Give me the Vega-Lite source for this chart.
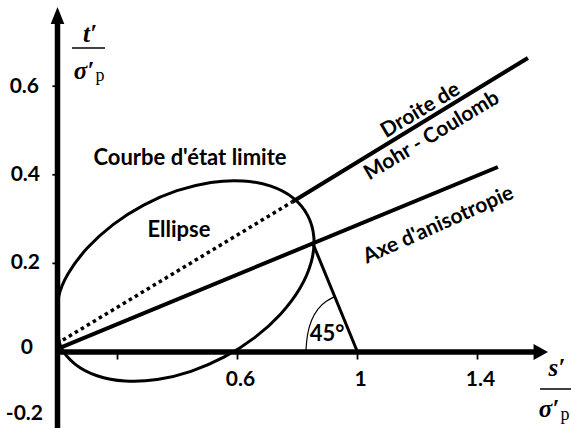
{
  "$schema": "https://vega.github.io/schema/vega-lite/v6.json",
  "width": 571,
  "height": 428,
  "autosize": {"type": "none"},
  "padding": 0,
  "background": "white",
  "config": {"view": {"stroke": null}, "font": "Lato"},
  "encoding": {
    "x": {"field": "s", "type": "quantitative", "scale": {"domain": [-0.19167, 1.71167], "nice": false, "zero": false}, "axis": null},
    "y": {"field": "t", "type": "quantitative", "scale": {"domain": [-0.1716, 0.7946], "nice": false, "zero": false}, "axis": null}
  },
  "layer": [
    {
      "description": "Ellipse (courbe d'état limite)",
      "data": {"values": [
        {"i": 0, "s": 0.8337, "t": 0.3085},
        {"i": 1, "s": 0.785, "t": 0.3479},
        {"i": 2, "s": 0.7113, "t": 0.3743},
        {"i": 3, "s": 0.618, "t": 0.3862},
        {"i": 4, "s": 0.5113, "t": 0.3828},
        {"i": 5, "s": 0.3983, "t": 0.3641},
        {"i": 6, "s": 0.2872, "t": 0.3317},
        {"i": 7, "s": 0.1852, "t": 0.2876},
        {"i": 8, "s": 0.0992, "t": 0.2345},
        {"i": 9, "s": 0.0352, "t": 0.1767},
        {"i": 10, "s": 0.004, "t": 0.125},
        {"i": 11, "s": 0.0, "t": 0.065},
        {"i": 12, "s": 0.011, "t": 0.012},
        {"i": 13, "s": 0.0584, "t": -0.0273},
        {"i": 14, "s": 0.132, "t": -0.0537},
        {"i": 15, "s": 0.2254, "t": -0.0657},
        {"i": 16, "s": 0.3321, "t": -0.0623},
        {"i": 17, "s": 0.4449, "t": -0.0436},
        {"i": 18, "s": 0.5561, "t": -0.0112},
        {"i": 19, "s": 0.6582, "t": 0.033},
        {"i": 20, "s": 0.7441, "t": 0.086},
        {"i": 21, "s": 0.8081, "t": 0.1438},
        {"i": 22, "s": 0.8458, "t": 0.2029},
        {"i": 23, "s": 0.8545, "t": 0.2591}
      ]},
      "mark": {"type": "line", "interpolate": "cardinal-closed", "stroke": "black", "strokeWidth": 3},
      "encoding": {"order": {"field": "i", "type": "quantitative"}}
    },
    {
      "description": "Mohr-Coulomb, partie intérieure (pointillés)",
      "data": {"values": [{"s": 0.018, "t": 0.027, "s2": 0.782, "t2": 0.3386}]},
      "mark": {"type": "rule", "stroke": "black", "strokeWidth": 3.5, "strokeDash": [3.5, 3.5], "strokeCap": "butt"},
      "encoding": {"x2": {"field": "s2"}, "y2": {"field": "t2"}}
    },
    {
      "description": "Droite de Mohr-Coulomb et axe d'anisotropie",
      "data": {"values": [
        {"s": 0.782, "t": 0.3386, "s2": 1.568, "t2": 0.6637},
        {"s": 0.01, "t": 0.01, "s2": 1.468, "t2": 0.4176}
      ]},
      "mark": {"type": "rule", "stroke": "black", "strokeWidth": 4},
      "encoding": {"x2": {"field": "s2"}, "y2": {"field": "t2"}}
    },
    {
      "description": "Normale à l'axe d'anisotropie",
      "data": {"values": [{"s": 0.852, "t": 0.2438, "s2": 1.0, "t2": 0.0}]},
      "mark": {"type": "rule", "stroke": "black", "strokeWidth": 3},
      "encoding": {"x2": {"field": "s2"}, "y2": {"field": "t2"}}
    },
    {
      "description": "Arc de l'angle de 45°",
      "data": {"values": [
        {"i": 0, "s": 0.8283, "t": 0.0045},
        {"i": 1, "s": 0.8317, "t": 0.0384},
        {"i": 2, "s": 0.845, "t": 0.0722},
        {"i": 3, "s": 0.8683, "t": 0.0993},
        {"i": 4, "s": 0.895, "t": 0.1151},
        {"i": 5, "s": 0.9217, "t": 0.1242}
      ]},
      "mark": {"type": "line", "interpolate": "basis", "stroke": "black", "strokeWidth": 1.2},
      "encoding": {"order": {"field": "i", "type": "quantitative"}}
    },
    {
      "description": "Axes",
      "data": {"values": [
        {"s": 0, "t": -0.1716, "s2": 0, "t2": 0.745},
        {"s": -0.008, "t": 0, "s2": 1.5917, "t2": 0}
      ]},
      "mark": {"type": "rule", "stroke": "black", "strokeWidth": 5.5},
      "encoding": {"x2": {"field": "s2"}, "y2": {"field": "t2"}}
    },
    {
      "description": "Flèche de l'axe vertical",
      "data": {"values": [{"s": 0, "t": 0.7596}]},
      "mark": {"type": "point", "shape": "M0,-1L-0.8,1L0.8,1Z", "size": 289, "filled": true, "fill": "black", "strokeWidth": 0, "opacity": 1}
    },
    {
      "description": "Flèche de l'axe horizontal",
      "data": {"values": [{"s": 1.6083, "t": 0}]},
      "mark": {"type": "point", "shape": "M1,0L-0.8,-1L-0.8,1Z", "size": 256, "filled": true, "fill": "black", "strokeWidth": 0, "opacity": 1}
    },
    {
      "description": "Graduations horizontales",
      "data": {"values": [
        {"s": 0.2, "t": 0, "t2": -0.017},
        {"s": 0.6, "t": 0, "t2": -0.017},
        {"s": 1.0, "t": 0, "t2": -0.017},
        {"s": 1.4, "t": 0, "t2": -0.017}
      ]},
      "mark": {"type": "rule", "stroke": "black", "strokeWidth": 1.8},
      "encoding": {"y2": {"field": "t2"}}
    },
    {
      "description": "Graduations verticales",
      "data": {"values": [
        {"s": -0.017, "s2": 0, "t": 0.2},
        {"s": -0.017, "s2": 0, "t": 0.4},
        {"s": -0.017, "s2": 0, "t": 0.6}
      ]},
      "mark": {"type": "rule", "stroke": "black", "strokeWidth": 1.8},
      "encoding": {"x2": {"field": "s2"}}
    },
    {
      "description": "Valeurs de l'axe vertical",
      "data": {"values": [
        {"label": "0.6", "s": -0.0617, "t": 0.598},
        {"label": "0.4", "s": -0.0583, "t": 0.3995},
        {"label": "0.2", "s": -0.0583, "t": 0.2009},
        {"label": "0", "s": -0.0817, "t": 0.009},
        {"label": "-0.2", "s": -0.0483, "t": -0.14}
      ]},
      "mark": {"type": "text", "align": "right", "baseline": "middle", "font": "Lato", "fontWeight": "bold", "fontSize": 21, "fill": "black"},
      "encoding": {"text": {"field": "label"}}
    },
    {
      "description": "Valeurs de l'axe horizontal",
      "data": {"values": [
        {"label": "0.6", "s": 0.6, "t": -0.0632},
        {"label": "1", "s": 1.0, "t": -0.0632},
        {"label": "1.4", "s": 1.4, "t": -0.0632}
      ]},
      "mark": {"type": "text", "align": "center", "baseline": "middle", "dx": 3, "font": "Lato", "fontWeight": "bold", "fontSize": 21, "fill": "black"},
      "encoding": {"text": {"field": "label"}}
    },
    {
      "description": "Libellés horizontaux",
      "data": {"values": [
        {"label": "Courbe d'état limite", "s": 0.4417, "t": 0.4379},
        {"label": "Ellipse", "s": 0.405, "t": 0.2754},
        {"label": "45°", "s": 0.8983, "t": 0.0406}
      ]},
      "mark": {"type": "text", "align": "center", "baseline": "middle", "font": "Lato", "fontWeight": "bold", "fontSize": 22, "fill": "black"},
      "encoding": {"text": {"field": "label"}}
    },
    {
      "description": "Libellés de la droite de Mohr-Coulomb",
      "data": {"values": [
        {"label": "Droite de", "s": 1.21, "t": 0.5452},
        {"label": "Mohr - Coulomb", "s": 1.248, "t": 0.4876}
      ]},
      "mark": {"type": "text", "align": "center", "baseline": "middle", "angle": -31, "font": "Lato", "fontWeight": "bold", "fontSize": 21, "fill": "black"},
      "encoding": {"text": {"field": "label"}}
    },
    {
      "description": "Libellé de l'axe d'anisotropie",
      "data": {"values": [{"label": "Axe d'anisotropie", "s": 1.27, "t": 0.286}]},
      "mark": {"type": "text", "align": "center", "baseline": "middle", "angle": -24, "font": "Lato", "fontWeight": "bold", "fontSize": 21, "fill": "black"},
      "encoding": {"text": {"field": "label"}}
    },
    {
      "description": "Barres de fraction des titres d'axes",
      "data": {"values": [
        {"s": 0.0483, "s2": 0.1583, "t": 0.686},
        {"s": 1.6083, "s2": 1.7117, "t": -0.0835}
      ]},
      "mark": {"type": "rule", "stroke": "black", "strokeWidth": 1.5},
      "encoding": {"x2": {"field": "s2"}}
    },
    {
      "description": "Numérateurs et dénominateurs des titres d'axes",
      "data": {"values": [
        {"label": "t′", "s": 0.1083, "t": 0.7178},
        {"label": "σ′", "s": 0.0883, "t": 0.6343},
        {"label": "s′", "s": 1.665, "t": -0.0361},
        {"label": "σ′", "s": 1.6383, "t": -0.1287}
      ]},
      "mark": {"type": "text", "align": "center", "baseline": "middle", "font": "Liberation Serif", "fontStyle": "italic", "fontWeight": "bold", "fontSize": 25, "fill": "black"},
      "encoding": {"text": {"field": "label"}}
    },
    {
      "description": "Indices p",
      "data": {"values": [
        {"label": "p", "s": 0.1417, "t": 0.623},
        {"label": "p", "s": 1.6917, "t": -0.1422}
      ]},
      "mark": {"type": "text", "align": "center", "baseline": "middle", "font": "Liberation Serif", "fontSize": 18, "fill": "black"},
      "encoding": {"text": {"field": "label"}}
    }
  ]
}
